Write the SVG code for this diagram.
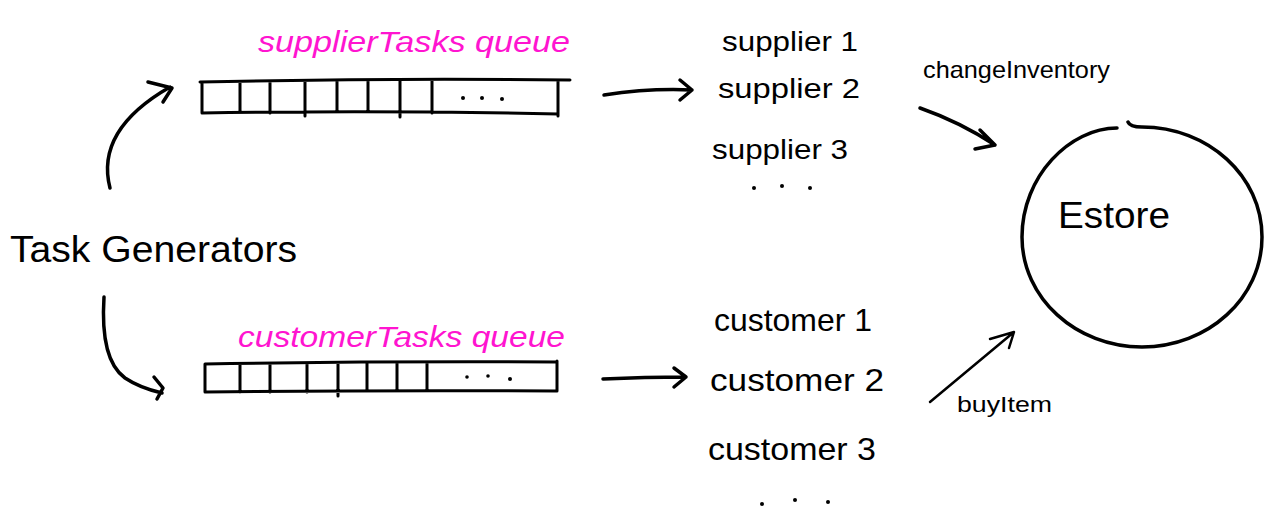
<svg xmlns="http://www.w3.org/2000/svg" width="1265" height="507" viewBox="0 0 1265 507">
<defs>
<style>
.ln{fill:none;stroke:#000;stroke-width:3.5;stroke-linecap:round;stroke-linejoin:round}
.cell{fill:none;stroke:#000;stroke-width:3;stroke-linecap:round}
.dot{fill:#000}
.t{font-family:"Liberation Sans",Arial,sans-serif;fill:#000}
.pk{font-family:"Liberation Sans",Arial,sans-serif;fill:#ff14d0;font-style:italic}
</style>
</defs>
<rect width="1265" height="507" fill="#fff"/>

<g id="task-generators">
<text class="t" x="10" y="262" font-size="36" textLength="287" lengthAdjust="spacingAndGlyphs">Task Generators</text>
</g>

<g id="supplier-queue">
<text class="pk" x="258" y="52" font-size="30" textLength="312" lengthAdjust="spacingAndGlyphs">supplierTasks  queue</text>
<path class="cell" d="M200 82 Q380 78 570 80 M202 113 Q380 110 558 114 M202 82 V113 M240 82 V112 M270 82 V113 M305 81 V116 M337 81 V112 M368 81 V112 M400 81 V117 M432 81 V113 M558 81 V116"/>
<circle class="dot" cx="463" cy="98" r="2"/><circle class="dot" cx="482" cy="98" r="2"/><circle class="dot" cx="502" cy="99" r="2"/>
</g>

<g id="customer-queue">
<text class="pk" x="238" y="347" font-size="30" textLength="327" lengthAdjust="spacingAndGlyphs">customerTasks  queue</text>
<path class="cell" d="M205 364 Q380 361 557 362 M205 392 Q380 390 557 391 M205 364 V392 M240 364 V392 M270 364 V392 M307 364 V392 M338 363 V396 M367 363 V391 M397 363 V391 M427 363 V389 M557 361 V391"/>
<circle class="dot" cx="467" cy="377" r="1.8"/><circle class="dot" cx="488" cy="376" r="1.8"/><circle class="dot" cx="510" cy="379" r="2"/>
</g>

<g id="suppliers">
<text class="t" x="722" y="51" font-size="28" textLength="136" lengthAdjust="spacingAndGlyphs">supplier 1</text>
<text class="t" x="718" y="98" font-size="28" textLength="142" lengthAdjust="spacingAndGlyphs">supplier 2</text>
<text class="t" x="712" y="159" font-size="28" textLength="136" lengthAdjust="spacingAndGlyphs">supplier 3</text>
<circle class="dot" cx="754" cy="188" r="2"/><circle class="dot" cx="782" cy="186" r="2"/><circle class="dot" cx="810" cy="188" r="2"/>
</g>

<g id="customers">
<text class="t" x="714" y="331" font-size="32" textLength="158" lengthAdjust="spacingAndGlyphs">customer 1</text>
<text class="t" x="710" y="391" font-size="32" textLength="174" lengthAdjust="spacingAndGlyphs">customer 2</text>
<text class="t" x="708" y="460" font-size="32" textLength="168" lengthAdjust="spacingAndGlyphs">customer 3</text>
<circle class="dot" cx="762" cy="504" r="2"/><circle class="dot" cx="795" cy="500" r="2"/><circle class="dot" cx="828" cy="502" r="2"/>
</g>

<g id="estore">
<path class="ln" d="M1128 122 Q1130 127 1142 127 C1208 127 1262 176 1262 237 C1262 298 1208 347 1142 347 C1076 347 1022 298 1022 237 C1022 176 1070 128 1117 128"/>
<text class="t" x="1058" y="228" font-size="36" textLength="112" lengthAdjust="spacingAndGlyphs">Estore</text>
</g>

<g id="connectors">
<path class="ln" d="M110 188 Q95 130 170 87 M148 82 L172 88 L163 102"/>
<path class="ln" d="M104 297 Q100 360 125 378 Q140 388 162 393 M154 377 L163 388 L157 399"/>
<path class="ln" d="M604 95 Q650 88 692 90 M680 80 L692 90 L680 100"/>
<path class="ln" d="M603 379 Q645 377 686 377 M674 368 L686 377 L674 387"/>
<path class="ln" d="M920 108 Q960 122 995 145 M980 130 L995 145 L975 149"/>
<text class="t" x="923" y="78" font-size="24" textLength="187" lengthAdjust="spacingAndGlyphs">changeInventory</text>
<path class="ln" d="M930 402 L1014 332 M990 339 L1014 332 L1009 348" style="stroke-width:2.5"/>
<text class="t" x="957" y="412" font-size="22" textLength="95" lengthAdjust="spacingAndGlyphs">buyItem</text>
</g>
</svg>
